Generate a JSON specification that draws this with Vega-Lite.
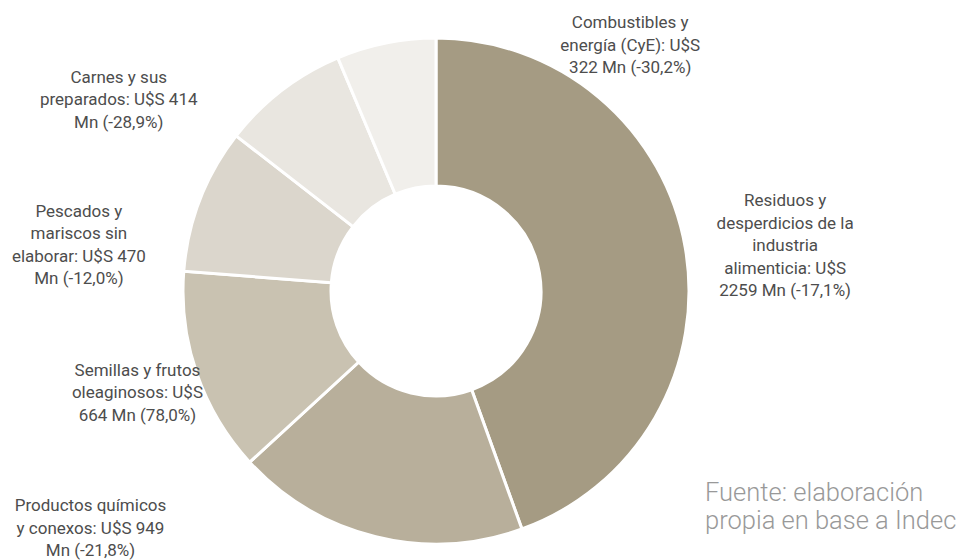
{
  "$schema": "https://vega.github.io/schema/vega-lite/v6.json",
  "width": 872,
  "height": 582,
  "autosize": {"type": "none"},
  "padding": {"left": 0, "top": 0, "right": 96, "bottom": 0},
  "background": "#ffffff",
  "title": {
    "text": ["Fuente: elaboración", "propia en base a Indec"],
    "orient": "bottom",
    "anchor": "start",
    "frame": "group",
    "align": "left",
    "dx": 705,
    "offset": -101,
    "font": "Roboto",
    "fontSize": 25.5,
    "fontWeight": 300,
    "lineHeight": 28,
    "color": "#999999"
  },
  "data": {
    "values": [
      {"cat": "Residuos", "ord": 1, "value": 2259, "var": -17.1, "label": "Residuos y\ndesperdicios de la\nindustria\nalimenticia: U$S\n2259 Mn (-17,1%)"},
      {"cat": "Productos", "ord": 2, "value": 949, "var": -21.8, "label": "Productos químicos\ny conexos: U$S 949\nMn (-21,8%)"},
      {"cat": "Semillas", "ord": 3, "value": 664, "var": 78.0, "label": "Semillas y frutos\noleaginosos: U$S\n664 Mn (78,0%)"},
      {"cat": "Pescados", "ord": 4, "value": 470, "var": -12.0, "label": "Pescados y\nmariscos sin\nelaborar: U$S 470\nMn (-12,0%)"},
      {"cat": "Carnes", "ord": 5, "value": 414, "var": -28.9, "label": "Carnes y sus\npreparados: U$S 414\nMn (-28,9%)"},
      {"cat": "Combustibles", "ord": 6, "value": 322, "var": -30.2, "label": "Combustibles y\nenergía (CyE): U$S\n322 Mn (-30,2%)"}
    ]
  },
  "layer": [
    {
      "mark": {"type": "arc", "innerRadius": 105, "outerRadius": 253, "stroke": "#ffffff", "strokeWidth": 3},
      "encoding": {
        "theta": {"field": "value", "type": "quantitative", "stack": true},
        "order": {"field": "ord", "type": "quantitative"},
        "color": {
          "field": "cat",
          "type": "nominal",
          "scale": {
            "domain": ["Residuos", "Productos", "Semillas", "Pescados", "Carnes", "Combustibles"],
            "range": ["#a59b83", "#b8af9b", "#c9c2b1", "#dbd6cc", "#e9e6e0", "#f1efeb"]
          },
          "legend": null
        }
      }
    },
    {
      "mark": {"type": "text", "radius": 191, "dx": 161, "dy": -57, "align": "center", "baseline": "middle", "lineBreak": "\n", "font": "Roboto", "fontSize": 17, "fontWeight": 400, "lineHeight": 22.5, "color": "#4d4d4d"},
      "encoding": {
        "theta": {"field": "value", "type": "quantitative", "stack": true},
        "order": {"field": "ord", "type": "quantitative"},
        "detail": {"field": "cat"},
        "text": {"condition": {"test": "datum.cat === 'Residuos'", "field": "label"}, "value": ""}
      }
    },
    {
      "mark": {"type": "text", "radius": 191, "dx": -300, "dy": 30, "align": "center", "baseline": "middle", "lineBreak": "\n", "font": "Roboto", "fontSize": 17, "fontWeight": 400, "lineHeight": 22.5, "color": "#4d4d4d"},
      "encoding": {
        "theta": {"field": "value", "type": "quantitative", "stack": true},
        "order": {"field": "ord", "type": "quantitative"},
        "detail": {"field": "cat"},
        "text": {"condition": {"test": "datum.cat === 'Productos'", "field": "label"}, "value": ""}
      }
    },
    {
      "mark": {"type": "text", "radius": 191, "dx": -118, "dy": 17.5, "align": "center", "baseline": "middle", "lineBreak": "\n", "font": "Roboto", "fontSize": 17, "fontWeight": 400, "lineHeight": 22.5, "color": "#4d4d4d"},
      "encoding": {
        "theta": {"field": "value", "type": "quantitative", "stack": true},
        "order": {"field": "ord", "type": "quantitative"},
        "detail": {"field": "cat"},
        "text": {"condition": {"test": "datum.cat === 'Semillas'", "field": "label"}, "value": ""}
      }
    },
    {
      "mark": {"type": "text", "radius": 191, "dx": -179, "dy": -10.5, "align": "center", "baseline": "middle", "lineBreak": "\n", "font": "Roboto", "fontSize": 17, "fontWeight": 400, "lineHeight": 22.5, "color": "#4d4d4d"},
      "encoding": {
        "theta": {"field": "value", "type": "quantitative", "stack": true},
        "order": {"field": "ord", "type": "quantitative"},
        "detail": {"field": "cat"},
        "text": {"condition": {"test": "datum.cat === 'Pescados'", "field": "label"}, "value": ""}
      }
    },
    {
      "mark": {"type": "text", "radius": 191, "dx": -201, "dy": -61.5, "align": "center", "baseline": "middle", "lineBreak": "\n", "font": "Roboto", "fontSize": 17, "fontWeight": 400, "lineHeight": 22.5, "color": "#4d4d4d"},
      "encoding": {
        "theta": {"field": "value", "type": "quantitative", "stack": true},
        "order": {"field": "ord", "type": "quantitative"},
        "detail": {"field": "cat"},
        "text": {"condition": {"test": "datum.cat === 'Carnes'", "field": "label"}, "value": ""}
      }
    },
    {
      "mark": {"type": "text", "radius": 191, "dx": 232, "dy": -80.5, "align": "center", "baseline": "middle", "lineBreak": "\n", "font": "Roboto", "fontSize": 17, "fontWeight": 400, "lineHeight": 22.5, "color": "#4d4d4d"},
      "encoding": {
        "theta": {"field": "value", "type": "quantitative", "stack": true},
        "order": {"field": "ord", "type": "quantitative"},
        "detail": {"field": "cat"},
        "text": {"condition": {"test": "datum.cat === 'Combustibles'", "field": "label"}, "value": ""}
      }
    }
  ]
}
